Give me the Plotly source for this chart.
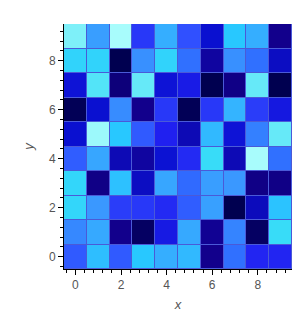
import plotly.graph_objects as go

x_vals = [0, 1, 2, 3, 4, 5, 6, 7, 8, 9]
y_vals = [0, 1, 2, 3, 4, 5, 6, 7, 8, 9]

# rows listed from y=0 (bottom) up to y=9 (top)
row_y0 = [0.43, 0.74, 0.43, 0.78, 0.68, 0.72, 0.10, 0.50, 0.31, 0.31]
row_y1 = [0.56, 0.66, 0.10, 0.03, 0.26, 0.66, 0.11, 0.55, 0.03, 0.85]
row_y2 = [0.83, 0.60, 0.36, 0.35, 0.32, 0.44, 0.63, 0.00, 0.17, 0.76]
row_y3 = [0.83, 0.09, 0.75, 0.18, 0.65, 0.48, 0.62, 0.60, 0.09, 0.09]
row_y4 = [0.44, 0.65, 0.16, 0.13, 0.21, 0.32, 0.85, 0.16, 1.00, 0.50]
row_y5 = [0.20, 0.98, 0.78, 0.43, 0.30, 0.16, 0.72, 0.22, 0.54, 0.90]
row_y6 = [0.01, 0.20, 0.57, 0.10, 0.35, 0.01, 0.35, 0.70, 0.36, 0.25]
row_y7 = [0.22, 0.88, 0.07, 0.90, 0.22, 0.27, 0.00, 0.09, 0.90, 0.00]
row_y8 = [0.82, 0.82, 0.00, 0.58, 0.82, 0.50, 0.13, 0.58, 0.50, 0.18]
row_y9 = [0.93, 0.62, 1.00, 0.35, 0.68, 0.40, 0.20, 0.78, 0.68, 0.10]

z = [row_y0, row_y1, row_y2, row_y3, row_y4, row_y5, row_y6, row_y7, row_y8, row_y9]

colorscale = [
    [0.0, "#000050"], [0.1, "#12008c"], [0.2, "#0a10d0"], [0.3, "#2020f0"],
    [0.4, "#3050ff"], [0.5, "#3070ff"], [0.6, "#3a98ff"], [0.7, "#34b4ff"],
    [0.78, "#28c8ff"], [0.85, "#38dcf8"], [0.92, "#78eef8"], [1.0, "#a8fcfc"],
]

fig = go.Figure(go.Heatmap(
    x=x_vals, y=y_vals, z=z, colorscale=colorscale, zmin=0, zmax=1,
    showscale=False, xgap=1, ygap=1,
))

axis_common = dict(
    showline=True, linecolor="black", linewidth=1,
    ticks="outside", tickcolor="black", ticklen=5, tickwidth=1,
    tick0=0, dtick=2, showgrid=False, zeroline=False,
    tickfont=dict(family="Liberation Sans, Arial, sans-serif", size=12, color="#555"),
    minor=dict(ticks="outside", ticklen=3, tickcolor="black", dtick=0.4, tick0=0, showgrid=False),
)

fig.update_layout(
    width=297, height=324,
    margin=dict(l=64, r=5, t=24, b=55),
    paper_bgcolor="white", plot_bgcolor="#4a5ad8",
    showlegend=False,
    xaxis=dict(range=[-0.5, 9.5], title=dict(text="x", standoff=8,
               font=dict(family="Liberation Sans, Arial, sans-serif", size=13, color="#555", style="italic")),
               **axis_common),
    yaxis=dict(range=[-0.5, 9.5], title=dict(text="y", standoff=12,
               font=dict(family="Liberation Sans, Arial, sans-serif", size=13, color="#555", style="italic")),
               **axis_common),
)

fig.write_html("out.html")
